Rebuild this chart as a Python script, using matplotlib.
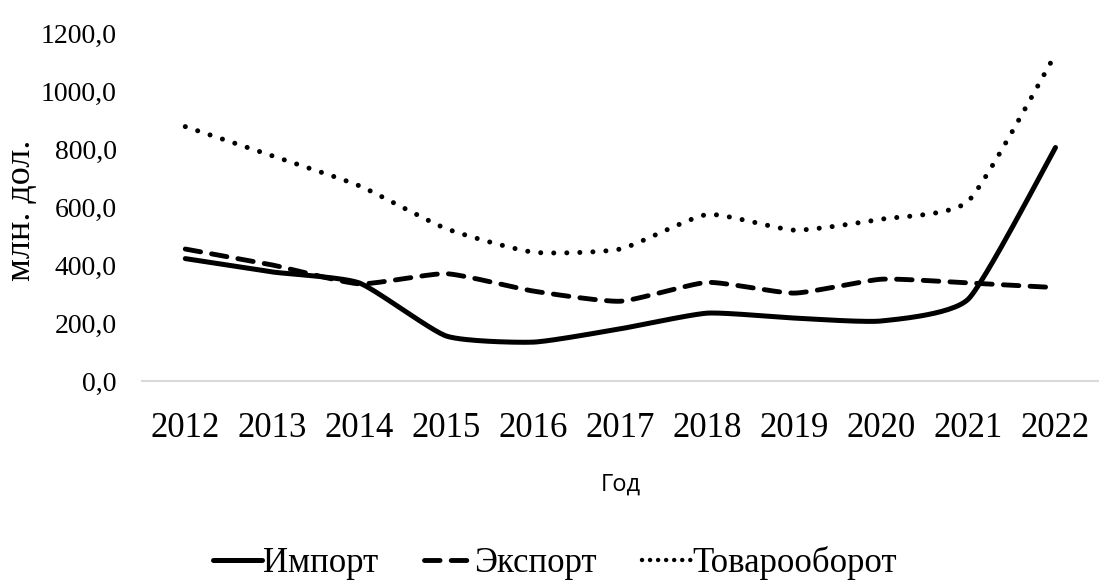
import numpy as np
import matplotlib.pyplot as plt
from matplotlib.lines import Line2D

# Данные
years = ['2012', '2013', '2014', '2015', '2016', '2017', '2018', '2019', '2020', '2021', '2022']
imp = [422, 376, 338, 155, 134, 180, 234, 217, 207, 283, 805]
exp = [455, 400, 335, 370, 310, 275, 340, 303, 351, 338, 322]
total = [877, 776, 673, 525, 444, 455, 574, 520, 558, 621, 1127]

serif = 'Liberation Serif'


def smooth(y, k=0.09, n=30):
    # сглаженная линия как в Excel (Безье по соседним точкам)
    y = np.asarray(y, dtype=float)
    x = np.arange(len(y), dtype=float)
    xs, ys = [], []
    for i in range(len(y) - 1):
        p0 = np.array([x[i], y[i]])
        p3 = np.array([x[i + 1], y[i + 1]])
        pm = np.array([x[i - 1], y[i - 1]]) if i > 0 else p0
        pp = np.array([x[i + 2], y[i + 2]]) if i + 2 < len(y) else p3
        p1 = p0 + (p3 - pm) * k
        p2 = p3 - (pp - p0) * k
        t = np.linspace(0, 1, n)[:, None]
        pts = (1 - t) ** 3 * p0 + 3 * (1 - t) ** 2 * t * p1 + 3 * (1 - t) * t ** 2 * p2 + t ** 3 * p3
        xs.extend(pts[:, 0])
        ys.extend(pts[:, 1])
    return np.array(xs), np.array(ys)


fig = plt.figure(figsize=(10.99, 5.84), dpi=100)
ax = fig.add_axes([0.129, 0.3476, 0.871, 0.596])

styles = {
    'Импорт': dict(linestyle='-', linewidth=3.6, solid_capstyle='round'),
    'Экспорт': dict(linestyle=(0, (3.2, 2.3)), linewidth=3.5, dash_capstyle='round'),
    'Товарооборот': dict(linestyle=(0, (0.01, 2.6)), linewidth=3.6, dash_capstyle='round'),
}

for name, vals in [('Импорт', imp), ('Экспорт', exp), ('Товарооборот', total)]:
    sx, sy = smooth(vals)
    ax.plot(sx, sy, color='black', **styles[name])

ax.set_xlim(-0.5, 10.5)
ax.set_ylim(0, 1200)
ax.set_xticks(range(len(years)))
ax.set_xticklabels(years, fontfamily=serif, fontsize=25)
ax.set_yticks(range(0, 1201, 200))
ax.set_yticklabels([f'{v},0' for v in range(0, 1201, 200)], fontfamily=serif, fontsize=20)
ax.tick_params(length=0)
ax.tick_params(axis='x', pad=22)
ax.tick_params(axis='y', pad=18)

for s in ['top', 'right', 'left']:
    ax.spines[s].set_visible(False)
ax.spines['bottom'].set_color('#d9d9d9')
ax.spines['bottom'].set_linewidth(1.5)

ax.set_xlabel('Год', fontfamily='Open Sans', fontsize=17, labelpad=20)
ax.set_ylabel('млн. дол.', fontfamily=serif, fontsize=26, labelpad=6)
ax.yaxis.set_label_coords(-0.108, 0.49)

handles = [
    Line2D([], [], color='black', **styles['Импорт']),
    Line2D([], [], color='black', **styles['Экспорт']),
    Line2D([], [], color='black', linestyle=(0, (0.01, 1.8)), linewidth=3.2, dash_capstyle='round'),
]
fig.legend(handles, list(styles.keys()), loc='center', bbox_to_anchor=(0.505, 0.036),
           ncol=3, frameon=False, prop={'family': serif, 'size': 25},
           handlelength=1.4, handletextpad=0.05, columnspacing=1.3)

fig.savefig('out.png', dpi=100)
